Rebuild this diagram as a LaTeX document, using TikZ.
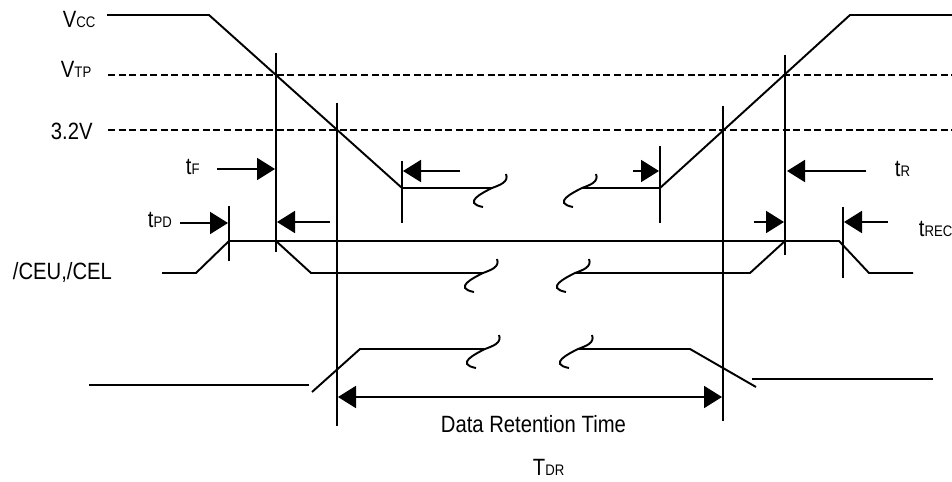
\documentclass[tikz,border=0pt]{standalone}
\usepackage{fontspec}
\setmainfont{Liberation Sans}[FakeStretch=0.86]
\usetikzlibrary{arrows.meta}

% break mark drawn on a held level
\tikzset{
    wavebreak/.pic={
        \draw (14,-14) .. controls (17,-6) and (8,-3) .. (0,0)
              .. controls (-10,5) and (-30,15) .. (-9,19);
    },
    tip/.style={-{Triangle[length=0.36cm,width=0.44cm]}},
    tips/.style={{Triangle[length=0.36cm,width=0.44cm]}-{Triangle[length=0.36cm,width=0.44cm]}},
    lvl/.style={dashed, dash pattern=on 4pt off 2pt},
    lbl/.style={anchor=base west, inner sep=0pt, font=\fontsize{13.4}{16}\selectfont}
}
\newcommand{\sml}[1]{{\fontsize{8.7}{10}\selectfont #1}}

\begin{document}
\begin{tikzpicture}[x=0.02cm, y=-0.02cm, line width=1.1pt]
        \useasboundingbox (0,0) rectangle (952,482);

        % Labels of the levels
        \node[lbl] (vcc) at (62,28) {V\sml{CC}};
        \node[lbl] (vtp) at (60,78) {V\sml{TP}};
        \node[lbl] (v32) at (50,140) {3.2V};

        % Threshold levels
        \draw[lvl] (108,75) -- (952,75);
        \draw[lvl] (108,130) -- (952,130);

        % Vcc: falls, held, then rises again
        \draw (107,15) -- (209,15) -- (402,188) -- (492,188);
        \draw (582,188) -- (660,188) -- (850,15) -- (952,15);
        \pic at (492,188) {wavebreak};
        \pic at (582,188) {wavebreak};

        % /CEU,/CEL
        \node[lbl] (ce) at (12,280) {/CEU,/CEL};
        \draw (162,273) -- (196,273) -- (229,241) -- (839,241) -- (869,273) -- (913,273);
        \draw (276,241) -- (311,273) -- (483,273);
        \draw (575,273) -- (750,273) -- (785,241);
        \pic at (483,273) {wavebreak};
        \pic at (575,273) {wavebreak};

        % Data
        \draw (89,385) -- (309,385);
        \draw (312,392) -- (360,349) -- (485,349);
        \draw (578,349) -- (690,349) -- (756,387);
        \draw (752,379) -- (933,379);
        \pic at (485,349) {wavebreak};
        \pic at (578,349) {wavebreak};

        % Timing marks
        \draw (229,206) -- (229,261);
        \draw (276,53) -- (276,252);
        \draw (337,103) -- (337,426);
        \draw (402,161) -- (402,223);
        \draw (660,146) -- (660,223);
        \draw (723,106) -- (723,421);
        \draw (785,55) -- (785,255);
        \draw (843,207) -- (843,278);

        % tF and tR
        \node[lbl] (tf) at (185,175) {t\sml{F}};
        \draw[tip] (217,169) -- (275,169);
        \draw[tip] (460,171) -- (403,171);
        \draw[tip] (633,171) -- (659,171);
        \draw[tip] (866,171) -- (787,171);
        \node[lbl] (tr) at (894,177) {t\sml{R}};

        % tPD and tREC
        \node[lbl] (tpd) at (147,228) {t\sml{PD}};
        \draw[tip] (180,223) -- (228,223);
        \draw[tip] (330,222) -- (277,222);
        \draw[tip] (754,222) -- (784,222);
        \draw[tip] (888,222) -- (844,222);
        \node[lbl] (trec) at (918,237) {t\sml{REC}};

        % Data retention time
        \draw[tips] (338,397) -- (722,397);
        \node[lbl] (drt) at (440,432) {Data Retention Time};
        \node[lbl] (tdr) at (532,475) {T\sml{DR}};
    \end{tikzpicture}
\end{document}
